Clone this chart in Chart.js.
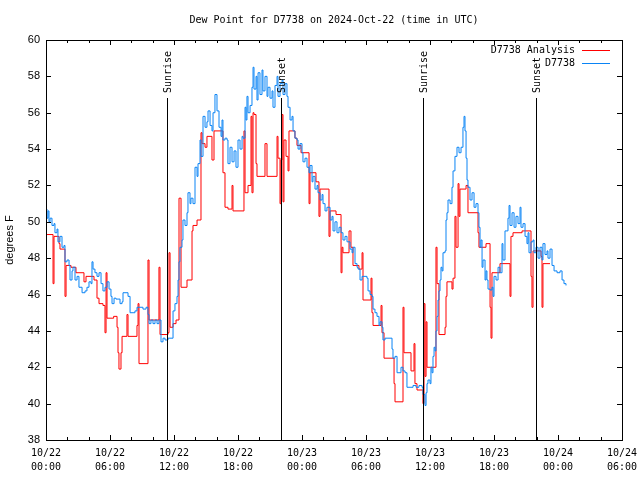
<!DOCTYPE html>
<html>
<head>
<meta charset="utf-8">
<script src="https://cdn.jsdelivr.net/npm/chart.js@4.4.1/dist/chart.umd.min.js"></script>
<style>
  html, body { margin: 0; padding: 0; background: #fff; }
  #wrap { width: 640px; height: 480px; }
</style>
</head>
<body>
<div id="wrap"><canvas id="myChart" width="640" height="480"></canvas></div>
<script>
// hours since 10/22 00:00 UTC
const blueTimes = [0.0, 0.09, 0.19, 0.28, 0.38, 0.56, 0.75, 0.84, 1.03, 1.12, 1.31, 1.5, 1.69, 1.78, 1.97, 2.16, 2.25, 2.44, 2.53, 2.72, 2.91, 3.09, 3.38, 3.66, 3.84, 4.03, 4.22, 4.31, 4.41, 4.59, 4.78, 4.97, 5.16, 5.34, 5.53, 5.72, 5.91, 6.09, 6.19, 6.38, 6.56, 6.84, 6.94, 7.13, 7.22, 7.5, 7.69, 7.88, 8.16, 8.34, 8.53, 8.81, 9.09, 9.38, 9.56, 9.66, 9.84, 10.03, 10.22, 10.41, 10.59, 10.78, 10.97, 11.16, 11.44, 11.72, 11.91, 12.09, 12.28, 12.38, 12.47, 12.56, 12.75, 12.84, 13.03, 13.22, 13.31, 13.5, 13.59, 13.78, 13.97, 14.16, 14.25, 14.44, 14.53, 14.72, 14.91, 15.09, 15.19, 15.38, 15.56, 15.66, 15.84, 16.03, 16.22, 16.41, 16.5, 16.59, 16.78, 16.97, 17.06, 17.25, 17.44, 17.63, 17.81, 18.0, 18.19, 18.38, 18.47, 18.66, 18.75, 18.84, 18.94, 19.13, 19.31, 19.41, 19.5, 19.69, 19.78, 19.88, 20.06, 20.25, 20.34, 20.53, 20.72, 20.81, 21.0, 21.19, 21.28, 21.47, 21.66, 21.75, 21.94, 22.13, 22.22, 22.41, 22.59, 22.69, 22.88, 23.06, 23.16, 23.34, 23.53, 23.63, 23.81, 24.0, 24.09, 24.28, 24.47, 24.66, 24.75, 24.94, 25.03, 25.22, 25.41, 25.5, 25.69, 25.88, 25.97, 26.16, 26.34, 26.63, 26.81, 26.91, 27.09, 27.28, 27.47, 27.66, 27.84, 28.03, 28.22, 28.5, 28.69, 28.78, 28.97, 29.16, 29.25, 29.44, 29.63, 29.81, 30.09, 30.19, 30.38, 30.56, 30.66, 30.84, 31.03, 31.22, 31.31, 31.5, 31.59, 31.78, 32.06, 32.25, 32.44, 32.53, 32.72, 32.91, 33.09, 33.28, 33.47, 33.66, 33.84, 34.13, 34.41, 34.69, 34.97, 35.25, 35.34, 35.53, 35.63, 35.72, 35.81, 36.0, 36.09, 36.19, 36.28, 36.38, 36.47, 36.56, 36.66, 36.75, 36.84, 36.94, 37.03, 37.13, 37.22, 37.41, 37.5, 37.59, 37.69, 37.88, 38.06, 38.16, 38.34, 38.53, 38.72, 38.91, 39.09, 39.19, 39.28, 39.38, 39.47, 39.56, 39.75, 39.94, 40.13, 40.31, 40.5, 40.59, 40.69, 40.78, 40.88, 40.97, 41.16, 41.25, 41.34, 41.44, 41.63, 41.81, 41.91, 42.0, 42.19, 42.38, 42.56, 42.75, 42.84, 43.03, 43.22, 43.31, 43.41, 43.5, 43.69, 43.88, 44.06, 44.25, 44.44, 44.53, 44.72, 44.91, 45.09, 45.19, 45.28, 45.47, 45.66, 45.75, 45.94, 46.13, 46.31, 46.5, 46.59, 46.78, 46.97, 47.06, 47.25, 47.44, 47.63, 47.91, 48.19, 48.38, 48.56, 48.75];
const blueValues = [50.7, 50.2, 50.6, 50.0, 50.2, 49.8, 49.9, 49.4, 49.6, 48.9, 49.2, 48.6, 48.7, 47.8, 47.9, 47.6, 46.8, 47.3, 47.5, 46.8, 47.0, 46.4, 46.1, 46.2, 46.4, 46.7, 46.6, 47.8, 47.4, 47.2, 47.0, 47.2, 46.6, 46.2, 46.4, 46.7, 46.3, 45.9, 45.5, 45.8, 45.75, 45.75, 45.5, 45.6, 46.1, 46.1, 45.9, 45.0, 45.0, 45.1, 45.3, 45.3, 45.2, 45.3, 44.9, 44.4, 44.6, 44.4, 44.6, 44.4, 44.6, 43.4, 43.6, 43.5, 43.6, 43.6, 45.1, 45.5, 45.9, 46.8, 47.8, 48.6, 49.0, 50.1, 49.8, 50.5, 51.6, 51.0, 51.3, 51.0, 53.0, 52.5, 53.2, 54.5, 53.6, 55.8, 55.2, 55.5, 56.1, 55.3, 55.0, 56.0, 57.0, 56.1, 55.2, 54.7, 55.6, 54.5, 54.6, 54.5, 53.2, 54.1, 53.3, 53.9, 53.0, 54.5, 54.0, 54.7, 54.6, 56.3, 55.6, 56.9, 56.0, 56.4, 57.4, 58.5, 57.3, 58.0, 56.7, 58.2, 57.0, 58.35, 57.2, 58.0, 56.9, 57.4, 56.8, 57.2, 56.3, 57.5, 58.0, 56.9, 57.6, 57.8, 57.0, 57.6, 56.9, 56.3, 55.6, 55.8, 55.0, 54.6, 54.5, 54.0, 54.3, 53.8, 53.3, 53.5, 53.0, 52.7, 53.1, 52.2, 52.5, 51.8, 52.0, 51.6, 51.2, 51.5, 51.0, 50.6, 50.8, 50.1, 50.3, 49.5, 50.0, 49.4, 49.7, 49.4, 49.0, 49.2, 48.9, 48.5, 48.3, 48.6, 47.7, 47.5, 47.4, 46.8, 47.0, 47.0, 46.9, 46.2, 46.0, 45.9, 45.2, 45.0, 44.8, 44.3, 44.5, 44.2, 43.5, 43.6, 43.6, 43.6, 43.0, 42.5, 42.6, 41.7, 41.7, 42.0, 41.8, 41.7, 40.9, 40.9, 41.0, 40.9, 41.0, 40.9, 40.5, 39.9, 40.6, 41.1, 41.3, 41.1, 42.0, 41.7, 42.6, 43.1, 42.9, 44.0, 44.8, 45.7, 46.2, 46.8, 47.5, 47.3, 48.3, 48.4, 50.1, 50.5, 51.2, 51.0, 51.9, 52.8, 53.6, 54.1, 53.8, 54.1, 55.2, 55.8, 55.0, 53.5, 52.3, 51.9, 51.2, 51.6, 50.8, 51.0, 50.5, 49.7, 48.6, 49.0, 47.5, 47.9, 46.8, 47.3, 46.8, 46.3, 46.25, 46.4, 45.9, 47.0, 46.8, 47.5, 47.2, 48.8, 47.9, 49.5, 49.5, 50.2, 50.9, 49.8, 50.5, 49.7, 50.3, 49.9, 50.8, 49.7, 49.9, 49.2, 48.8, 49.4, 48.3, 48.9, 49.0, 48.3, 48.6, 48.0, 48.6, 47.9, 48.8, 48.2, 48.4, 48.0, 48.5, 47.6, 47.3, 47.2, 47.3, 46.8, 46.6, 46.5];

const redTimes = [0, 0.66, 0.75, 1.22, 1.31, 1.78, 1.88, 2.34, 2.81, 3.56, 3.75, 4.5, 4.78, 4.97, 5.34, 5.53, 5.63, 5.72, 6.34, 6.66, 6.75, 6.84, 7.03, 7.13, 7.59, 7.69, 8.53, 8.63, 8.72, 9.56, 9.66, 10.59, 10.69, 11.44, 11.53, 11.63, 11.91, 12.19, 12.47, 12.66, 13.22, 13.69, 13.78, 14.16, 14.53, 14.63, 14.91, 15.09, 15.56, 15.75, 16.59, 16.78, 17.06, 17.44, 17.53, 18.56, 18.66, 18.94, 19.22, 19.31, 19.41, 19.5, 19.69, 19.78, 20.53, 20.72, 21.66, 21.75, 21.94, 22.03, 22.13, 22.22, 22.31, 22.5, 22.69, 22.78, 23.34, 23.53, 23.91, 24.66, 24.75, 25.31, 25.59, 25.69, 26.53, 26.63, 27.19, 27.66, 27.75, 27.84, 28.41, 28.59, 28.78, 29.34, 29.63, 29.72, 30.47, 30.56, 30.66, 31.41, 31.5, 31.69, 32.63, 32.72, 33.47, 33.56, 34.22, 34.5, 34.59, 34.78, 35.34, 35.44, 35.53, 35.63, 35.72, 36.56, 36.66, 36.84, 37.41, 37.5, 37.59, 38.06, 38.16, 38.34, 38.44, 38.63, 38.72, 38.81, 39.38, 39.56, 40.5, 40.59, 41.25, 41.63, 41.72, 41.81, 42.56, 43.5, 43.59, 43.78, 44.63, 45.47, 45.56, 45.66, 46.41, 46.5, 46.59, 47.25];
const redValues = [49.3, 46.6, 49.2, 48.8, 48.5, 45.9, 47.6, 47.5, 47.2, 46.7, 47.0, 46.8, 45.8, 45.5, 45.4, 43.9, 47.2, 44.7, 44.8, 44.2, 42.8, 41.9, 42.8, 43.7, 44.9, 43.7, 44.3, 45.5, 42.2, 47.9, 44.6, 47.5, 43.8, 43.9, 48.3, 44.2, 44.4, 44.6, 51.3, 46.4, 46.8, 49.5, 49.8, 50.1, 54.9, 54.3, 54.1, 54.7, 53.4, 55.0, 52.7, 50.8, 50.7, 52.0, 50.6, 55.0, 51.6, 52.0, 55.8, 51.6, 56.0, 55.9, 53.2, 52.5, 54.3, 52.5, 54.7, 53.5, 51.0, 53.4, 55.9, 51.1, 54.5, 53.6, 52.8, 55.0, 54.6, 54.2, 53.8, 51.0, 52.7, 52.2, 50.3, 51.8, 49.2, 50.6, 50.4, 47.2, 48.6, 48.3, 49.5, 48.6, 47.6, 47.4, 48.3, 45.7, 46.9, 45.0, 44.3, 45.4, 43.9, 42.5, 41.1, 40.1, 45.3, 42.8, 41.8, 43.3, 41.1, 40.75, 40.0, 45.5, 41.5, 44.5, 42.0, 48.6, 46.6, 43.8, 44.2, 45.9, 46.7, 46.3, 46.9, 50.3, 48.6, 52.1, 50.3, 51.8, 52.0, 50.5, 49.4, 48.6, 48.8, 45.3, 43.6, 47.2, 47.7, 45.9, 49.2, 49.4, 49.5, 47.0, 45.3, 48.4, 48.1, 45.3, 47.7, 47.7];

const xTickDates = ['10/22', '10/22', '10/22', '10/22', '10/23', '10/23', '10/23', '10/23', '10/24', '10/24'];
const xTickTimes = ['00:00', '06:00', '12:00', '18:00', '00:00', '06:00', '12:00', '18:00', '00:00', '06:00'];

const eventTimes = [11.34, 22.03, 35.34, 45.94];
const eventLabels = ['Sunrise', 'Sunset', 'Sunrise', 'Sunset'];

const RED = '#ff0000';
const BLUE = '#0a84f5';
const MONO = '10px "DejaVu Sans Mono", monospace';

const gnuplotDecor = {
  id: 'gnuplotDecor',
  afterDatasetsDraw(chart) {
    const c = chart.ctx;
    const a = chart.chartArea;
    const xs = chart.scales.x;
    const ys = chart.scales.y;
    c.save();
    c.strokeStyle = '#000';
    c.lineWidth = 1;

    // sunrise / sunset markers
    c.fillStyle = '#000';
    c.font = MONO;
    eventTimes.forEach((t, i) => {
      const px = Math.round(xs.getPixelForValue(t)) + 0.5;
      c.beginPath();
      c.moveTo(px, a.bottom);
      c.lineTo(px, 98);
      c.stroke();
      c.save();
      c.translate(px + 1, 93);
      c.rotate(-Math.PI / 2);
      c.textAlign = 'left';
      c.textBaseline = 'middle';
      c.fillText(eventLabels[i], 0, 0);
      c.restore();
    });

    // frame
    c.strokeRect(Math.round(a.left) + 0.5, Math.round(a.top) + 0.5,
      Math.round(a.right - a.left), Math.round(a.bottom - a.top));

    // x ticks, inside, bottom and top
    for (let h = 0; h <= 54; h += 2) {
      const px = Math.round(xs.getPixelForValue(h)) + 0.5;
      const len = h % 6 === 0 ? 5 : 3;
      c.beginPath();
      c.moveTo(px, a.bottom);
      c.lineTo(px, a.bottom - len);
      c.moveTo(px, a.top);
      c.lineTo(px, a.top + len);
      c.stroke();
    }
    // y ticks, inside, left and right
    ys.ticks.forEach(tk => {
      const py = Math.round(ys.getPixelForValue(tk.value)) + 0.5;
      c.beginPath();
      c.moveTo(a.left, py);
      c.lineTo(a.left + 5, py);
      c.moveTo(a.right, py);
      c.lineTo(a.right - 5, py);
      c.stroke();
    });

    // title
    c.fillStyle = '#000';
    c.font = MONO;
    c.textAlign = 'center';
    c.textBaseline = 'middle';
    c.fillText('Dew Point for D7738 on 2024-Oct-22 (time in UTC)', (a.left + a.right) / 2, 20);

    // y axis title
    c.save();
    c.translate(10, (a.top + a.bottom) / 2);
    c.rotate(-Math.PI / 2);
    c.font = '11px "Liberation Sans", Arial, sans-serif';
    c.textAlign = 'center';
    c.textBaseline = 'middle';
    c.fillText('degrees F', 0, 0);
    c.restore();

    // legend
    const legend = [['D7738 Analysis', RED], ['D7738', BLUE]];
    c.font = MONO;
    c.textAlign = 'right';
    c.textBaseline = 'middle';
    legend.forEach((item, i) => {
      const ly = 50 + i * 13;
      c.fillStyle = '#000';
      c.fillText(item[0], 575, ly);
      c.strokeStyle = item[1];
      c.beginPath();
      c.moveTo(582, ly + 0.5);
      c.lineTo(610, ly + 0.5);
      c.stroke();
    });
    c.restore();
  }
};

const ctx = document.getElementById('myChart');

new Chart(ctx, {
  type: 'line',
  data: {
    datasets: [
      {
        label: 'D7738 Analysis',
        data: redTimes.map((t, i) => ({ x: t, y: redValues[i] })),
        borderColor: RED,
        borderWidth: 1,
        pointRadius: 0,
        stepped: true,
        fill: false,
        order: 2
      },
      {
        label: 'D7738',
        data: blueTimes.map((t, i) => ({ x: t, y: blueValues[i] })),
        borderColor: BLUE,
        borderWidth: 1,
        pointRadius: 0,
        stepped: true,
        fill: false,
        order: 1
      }
    ]
  },
  options: {
    responsive: false,
    animation: false,
    layout: { padding: { top: 40, right: 18, left: 0, bottom: 0 } },
    plugins: {
      legend: { display: false },
      tooltip: { enabled: false }
    },
    scales: {
      x: {
        type: 'linear',
        min: 0,
        max: 54,
        afterFit(scale) {
          scale.height = 40;
          scale.paddingLeft = 0;
          scale.paddingRight = 0;
        },
        border: { display: false },
        grid: { display: false, drawTicks: false },
        ticks: {
          stepSize: 6,
          autoSkip: false,
          maxRotation: 0,
          padding: 6,
          color: '#000',
          font: { family: '"DejaVu Sans Mono", monospace', size: 10, lineHeight: 1.45 },
          callback: (v) => {
            const i = Math.round(v / 6);
            return [xTickDates[i], xTickTimes[i]];
          }
        }
      },
      y: {
        min: 38,
        max: 60,
        afterFit(scale) {
          scale.width = 46;
          scale.paddingTop = 0;
          scale.paddingBottom = 0;
        },
        border: { display: false },
        grid: { display: false, drawTicks: false },
        ticks: {
          stepSize: 2,
          padding: 6,
          color: '#000',
          font: { family: '"Liberation Sans", Arial, sans-serif', size: 11 }
        }
      }
    }
  },
  plugins: [gnuplotDecor]
});
</script>
</body>
</html>
